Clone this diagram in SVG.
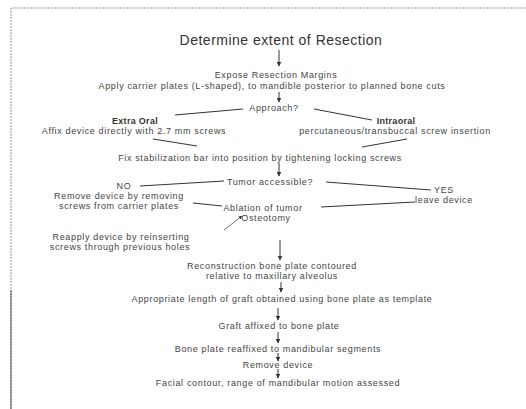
<svg xmlns="http://www.w3.org/2000/svg" width="526" height="409" viewBox="0 0 526 409">
<defs>
<marker id="ah" viewBox="0 0 10 10" refX="9" refY="5" markerWidth="5" markerHeight="5" orient="auto"><path d="M0,0 L10,5 L0,10 z" fill="#333"/></marker>
<style>
text{font-family:"Liberation Sans",Arial,sans-serif;font-size:9px;letter-spacing:0.65px;fill:#444;text-anchor:middle}
.t{font-size:14px;letter-spacing:0.5px;fill:#333}
.b{font-weight:bold;letter-spacing:0.3px;fill:#333}
.c line{stroke:#333;stroke-width:1}
.c .a{marker-end:url(#ah)}
.frame{stroke:#999;stroke-width:1;stroke-dasharray:2 1;fill:none}
</style>
</defs>
<rect width="526" height="409" fill="#fff"/>
<path class="frame" d="M11,409 V8 H526"/>
<line x1="11" y1="290" x2="11" y2="409" stroke="#555" stroke-width="1"/>
<g id="n-title"><text class="t" x="281" y="45">Determine extent of Resection</text></g>
<g id="n-expose"><text x="276" y="78">Expose Resection Margins</text><text x="272" y="89">Apply carrier plates (L-shaped), to mandible posterior to planned bone cuts</text></g>
<g id="n-approach"><text x="274" y="111">Approach?</text></g>
<g id="n-extra"><text class="b" x="135" y="124">Extra Oral</text><text x="134" y="134">Affix device directly with 2.7 mm screws</text></g>
<g id="n-intra"><text class="b" x="396" y="124">Intraoral</text><text x="395" y="134">percutaneous/transbuccal screw insertion</text></g>
<g id="n-fix"><text x="260" y="160.5">Fix stabilization bar into position by tightening locking screws</text></g>
<g id="n-tumor"><text x="270" y="184.5">Tumor accessible?</text></g>
<g id="n-no"><text x="124" y="189">NO</text></g>
<g id="n-remove"><text x="119" y="199">Remove device by removing</text><text x="119" y="209">screws from carrier plates</text></g>
<g id="n-yes"><text x="444" y="193">YES</text></g>
<g id="n-leave"><text x="444" y="203">leave device</text></g>
<g id="n-ablation"><text x="263" y="211">Ablation of tumor</text><text x="266" y="221">Osteotomy</text></g>
<g id="n-reapply"><text x="121" y="240">Reapply device by reinserting</text><text x="120" y="250">screws through previous holes</text></g>
<g id="n-recon"><text x="272" y="269">Reconstruction bone plate contoured</text><text x="272" y="279">relative to maxillary alveolus</text></g>
<g id="n-graft-len"><text x="282" y="301.5">Appropriate length of graft obtained using bone plate as template</text></g>
<g id="n-graft-fix"><text x="279" y="328.5">Graft affixed to bone plate</text></g>
<g id="n-reaffix"><text x="278" y="351.5">Bone plate reaffixed to mandibular segments</text></g>
<g id="n-remove2"><text x="278" y="367.5">Remove device</text></g>
<g id="n-facial"><text x="278" y="385.5">Facial contour, range of mandibular motion assessed</text></g>
<g id="connectors" class="c">
<line class="a" x1="279" y1="50" x2="279" y2="66"/>
<line class="a" x1="279" y1="92" x2="279" y2="102"/>
<line x1="175" y1="115" x2="243" y2="109"/>
<line x1="314" y1="109" x2="372" y2="120"/>
<line x1="153" y1="139" x2="197" y2="146"/>
<line x1="407" y1="139" x2="362" y2="147"/>
<line class="a" x1="279" y1="163" x2="279" y2="176"/>
<line x1="140" y1="186" x2="224" y2="181"/>
<line x1="326" y1="182" x2="431" y2="190"/>
<line x1="193" y1="203" x2="222" y2="206"/>
<line x1="415" y1="202" x2="321" y2="207"/>
<line class="a" x1="224" y1="230" x2="242" y2="216" style="stroke-width:0.7"/>
<line class="a" x1="280" y1="240" x2="280" y2="260"/>
<line class="a" x1="281" y1="282" x2="281" y2="292"/>
<line class="a" x1="278" y1="308" x2="278" y2="320"/>
<line class="a" x1="278" y1="332" x2="278" y2="343"/>
<line class="a" x1="278" y1="353" x2="278" y2="361"/>
<line class="a" x1="278" y1="369" x2="278" y2="378"/>
</g>
</svg>
